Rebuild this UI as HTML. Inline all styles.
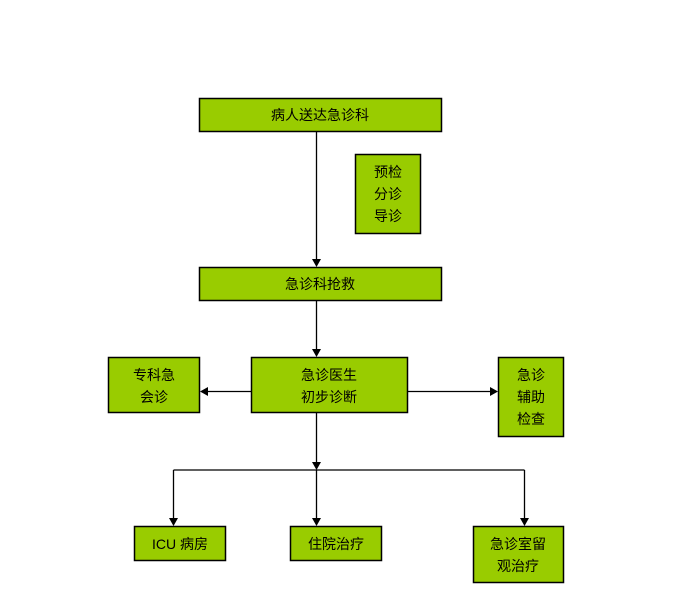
<!DOCTYPE html>
<html><head><meta charset="utf-8"><style>
html,body{margin:0;padding:0;background:#fff;}
svg{display:block;}
text{font-family:"Liberation Sans","Noto Sans CJK SC","WenQuanYi Zen Hei",sans-serif;font-size:14px;fill:#000;text-anchor:middle;}
rect{fill:#99cc00;stroke:#000;stroke-width:1.5;}
line{stroke:#000;stroke-width:1.3;}
polygon{fill:#000;}
</style></head><body>
<svg width="699" height="593" viewBox="0 0 699 593">
<rect x="199.5" y="98.5" width="242" height="33"/>
<text x="320" y="120">病人送达急诊科</text>
<rect x="355.5" y="154.5" width="65" height="79"/>
<text x="388" y="177">预检</text>
<text x="388" y="199">分诊</text>
<text x="388" y="221">导诊</text>
<rect x="199.5" y="267.5" width="242" height="33"/>
<text x="320" y="289">急诊科抢救</text>
<rect x="251.5" y="357.5" width="156" height="55"/>
<text x="329" y="380">急诊医生</text>
<text x="329" y="402">初步诊断</text>
<rect x="108.5" y="357.5" width="91" height="55"/>
<text x="154" y="380">专科急</text>
<text x="154" y="402">会诊</text>
<rect x="498.5" y="357.5" width="65" height="79"/>
<text x="531" y="380">急诊</text>
<text x="531" y="402">辅助</text>
<text x="531" y="424">检查</text>
<rect x="134.5" y="526.5" width="91" height="34"/>
<text x="180" y="549">ICU 病房</text>
<rect x="290.5" y="526.5" width="91" height="34"/>
<text x="336" y="549">住院治疗</text>
<rect x="473.5" y="526.5" width="90" height="56"/>
<text x="518" y="549">急诊室留</text>
<text x="518" y="571">观治疗</text>

<line x1="316.5" y1="132" x2="316.5" y2="262"/>
<polygon points="312,259 321,259 316.5,267"/>
<line x1="316.5" y1="301" x2="316.5" y2="352"/>
<polygon points="312,349 321,349 316.5,357"/>
<line x1="316.5" y1="413" x2="316.5" y2="464"/>
<polygon points="312,462 321,462 316.5,470"/>
<line x1="251" y1="391.5" x2="204" y2="391.5"/>
<polygon points="200,391.5 208,387 208,396"/>
<line x1="408" y1="391.5" x2="494" y2="391.5"/>
<polygon points="498,391.5 490,387 490,396"/>
<line x1="173.5" y1="470" x2="524.5" y2="470"/>
<line x1="173.5" y1="470" x2="173.5" y2="520"/>
<polygon points="169,518 178,518 173.5,526"/>
<line x1="316.5" y1="470" x2="316.5" y2="520"/>
<polygon points="312,518 321,518 316.5,526"/>
<line x1="524.5" y1="470" x2="524.5" y2="520"/>
<polygon points="520,518 529,518 524.5,526"/>
</svg>
</body></html>
